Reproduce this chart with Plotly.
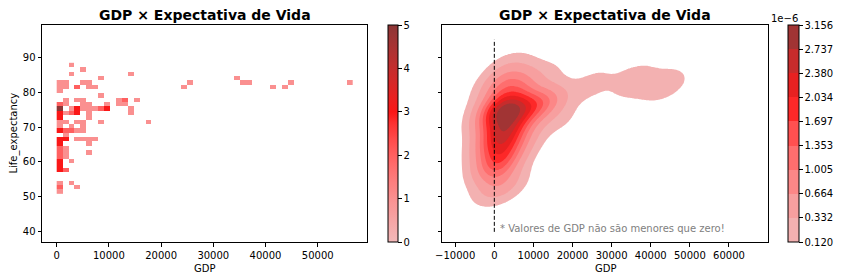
import math
import numpy as np
import plotly.graph_objects as go

# ---------------- data ----------------
# one entry per occupied 2-D histogram cell: GDP, life expectancy, number of countries
gdp = [
    2800,
    5100,
    2800, 14200,
    8500, 34600,
    600, 1700, 5100, 6200, 25500, 35700, 36900, 44800, 56100,
    600, 1700, 4000, 6200, 7400, 24400, 41400, 43700,
    600,
    8500,
    1700, 4000, 5100, 11900, 13000, 15300,
    600, 1700, 5100, 6200, 9600, 11900, 13000,
    600, 2800, 4000, 5100, 6200, 7400, 8500, 9600, 14200,
    600, 1700, 2800, 4000, 6200, 14200,
    600, 6200,
    600, 1700, 4000, 5100, 8500, 17600,
    600, 2800, 5100,
    600, 1700, 2800, 4000, 5100,
    1700,
    600, 1700, 4000, 5100, 6200, 7400,
    600, 6200,
    600, 1700,
    600, 1700, 6200,
    600, 1700,
    600, 2800,
    600,
    600, 1700,
    600, 2800,
    600, 4000,
    600,
]
life_expectancy = [
    87.8,
    86.5,
    85.3, 85.3,
    84.0, 84.0,
    82.8, 82.8, 82.8, 82.8, 82.8, 82.8, 82.8, 82.8, 82.8,
    81.6, 81.6, 81.6, 81.6, 81.6, 81.6, 81.6, 81.6,
    80.3,
    79.1,
    77.8, 77.8, 77.8, 77.8, 77.8, 77.8,
    76.6, 76.6, 76.6, 76.6, 76.6, 76.6, 76.6,
    75.3, 75.3, 75.3, 75.3, 75.3, 75.3, 75.3, 75.3, 75.3,
    74.1, 74.1, 74.1, 74.1, 74.1, 74.1,
    72.8, 72.8,
    71.6, 71.6, 71.6, 71.6, 71.6, 71.6,
    70.3, 70.3, 70.3,
    69.1, 69.1, 69.1, 69.1, 69.1,
    67.9,
    66.6, 66.6, 66.6, 66.6, 66.6, 66.6,
    65.4, 65.4,
    64.1, 64.1,
    62.9, 62.9, 62.9,
    61.6, 61.6,
    60.4, 60.4,
    59.2,
    57.9, 57.9,
    54.2, 54.2,
    52.9, 52.9,
    51.7,
]
countries = [
    1,
    1,
    1, 1,
    1, 1,
    1, 1, 1, 1, 1, 1, 1, 1, 1,
    1, 1, 2, 1, 1, 1, 1, 1,
    1,
    1,
    1, 1, 1, 1, 2, 1,
    2, 1, 1, 1, 1, 1, 1,
    5, 1, 3, 1, 1, 1, 2, 3, 1,
    3, 1, 2, 3, 1, 1,
    3, 1,
    1, 1, 1, 1, 1, 1,
    1, 1, 1,
    3, 2, 2, 1, 1,
    1,
    3, 3, 1, 1, 1, 1,
    3, 1,
    2, 1,
    2, 1, 1,
    2, 1,
    3, 1,
    3,
    3, 2,
    1, 1,
    2, 1,
    1,
]

# tick labels of the density colour bar (x 1e-6)
kde_tick_labels = ["0.120", "0.332", "0.664", "1.005", "1.353",
                   "1.697", "2.034", "2.380", "2.737", "3.156"]

TITLE = "GDP × Expectativa de Vida"
NOTE = "* Valores de GDP não são menores que zero!"
ZERO_GDP = 0
ZERO_LINE_SPAN = [40, 95]

# ---------------- seaborn-like colormap (HUSL ramp from "red") ----------------
_M = [[3.240969941904521, -1.537383177570093, -0.498610760293],
      [-0.96924363628087, 1.87596750150772, 0.041555057407175],
      [0.055630079696993, -0.20397695888897, 1.056971514242878]]
_KAPPA = 903.2962962
_EPS = 0.0088564516
_REF_U = 0.19783000664283
_REF_V = 0.46831999493879


def _bounds(L):
    sub1 = (L + 16) ** 3 / 1560896
    sub2 = sub1 if sub1 > _EPS else L / _KAPPA
    out = []
    for m1, m2, m3 in _M:
        for t in (0, 1):
            top1 = (284517 * m1 - 94839 * m3) * sub2
            top2 = (838422 * m3 + 769860 * m2 + 731718 * m1) * L * sub2 - 769860 * t * L
            bottom = (632260 * m3 - 126452 * m2) * sub2 + 126452 * t
            out.append((top1 / bottom, top2 / bottom))
    return out


def _max_chroma(L, H):
    hr = math.radians(H)
    lens = []
    for slope, icpt in _bounds(L):
        ln = icpt / (math.sin(hr) - slope * math.cos(hr))
        if ln >= 0:
            lens.append(ln)
    return min(lens)


def husl_to_rgb(h, s, l):
    if l > 99.9999999:
        return (1.0, 1.0, 1.0)
    if l < 1e-8:
        return (0.0, 0.0, 0.0)
    c = _max_chroma(l, h) / 100 * s
    hr = math.radians(h)
    u, v = c * math.cos(hr), c * math.sin(hr)
    Y = l / _KAPPA if l <= 8 else ((l + 16) / 116) ** 3
    vu = u / (13 * l) + _REF_U
    vv = v / (13 * l) + _REF_V
    X = -(9 * Y * vu) / ((vu - 4) * vv - vu * vv)
    Z = (9 * Y - 15 * vv * Y - vv * X) / (3 * vv)
    rgb = []
    for r in _M:
        lin = r[0] * X + r[1] * Y + r[2] * Z
        cc = 12.92 * lin if lin <= 0.0031308 else 1.055 * lin ** (1 / 2.4) - 0.055
        rgb.append(min(max(cc, 0.0), 1.0))
    return rgb


_XX = np.linspace(-1, 1, int(1.15 * 256))[:256]


def cmap(v):
    idx = min(max(int(v * 256), 0), 255)
    j = 255 - idx
    s = 100 * math.cos(_XX[j])
    L = 35 + 45 * j / 255
    r, g, b = husl_to_rgb(12.177, s, L)
    return f"rgb({round(r*255)},{round(g*255)},{round(b*255)})"


# ---------------- histogram ----------------
gx = np.repeat(np.array(gdp, float), countries)
gy = np.repeat(np.array(life_expectancy, float), countries)

GDP_BIN, GDP_START, N_GDP = 1134, 0, 50
LIFE_BIN, LIFE_START, N_LIFE = 1.246, 51.0, 30
xedges = GDP_START + GDP_BIN * np.arange(N_GDP + 1)
yedges = LIFE_START + LIFE_BIN * np.arange(N_LIFE + 1)
Hc, _, _ = np.histogram2d(gx, gy, bins=[xedges, yedges])
zc = [[(None if v == 0 else float(v)) for v in row] for row in Hc.T]
xc = 0.5 * (xedges[:-1] + xedges[1:])
yc = 0.5 * (yedges[:-1] + yedges[1:])

hist_scale = [[k / 40, cmap(k / 40)] for k in range(41)]

# ---------------- KDE (scipy gaussian_kde / seaborn style) ----------------
BW_ADJUST = 0.92
data = np.vstack([gx, gy])
n = data.shape[1]
cov = np.cov(data)
factor = n ** (-1 / 6) * BW_ADJUST
kcov = cov * factor ** 2
bw = np.sqrt(np.diag(kcov))
xg = np.linspace(gx.min() - 3 * bw[0], gx.max() + 3 * bw[0], 200)
yg = np.linspace(gy.min() - 3 * bw[1], gy.max() + 3 * bw[1], 200)
XX, YY = np.meshgrid(xg, yg)
inv = np.linalg.inv(kcov)
norm = 1.0 / (2 * math.pi * math.sqrt(np.linalg.det(kcov)))
dens = np.zeros_like(XX)
for px_, py_ in zip(gx, gy):
    dx = XX - px_
    dy = YY - py_
    q = inv[0, 0] * dx * dx + 2 * inv[0, 1] * dx * dy + inv[1, 1] * dy * dy
    dens += np.exp(-0.5 * q)
dens *= norm / n

iso = np.linspace(0.05, 1, 10)
sv = np.sort(dens.ravel())[::-1]
cum = np.cumsum(sv) / sv.sum()
levels = np.take(sv, np.searchsorted(cum, 1 - iso), mode="clip")
zmap = np.interp(dens, np.concatenate([[0.0], levels]), np.arange(-1, 10))

mids = 0.5 * (levels[:-1] + levels[1:])
band_colors = [cmap((m - levels[0]) / (levels[-1] - levels[0])) for m in mids]
contour_scale = [[0.0, "rgba(255,255,255,0)"], [0.1, "rgba(255,255,255,0)"]]
for i, c in enumerate(band_colors):
    contour_scale += [[0.1 * (i + 1), c], [0.1 * (i + 2), c]]
bar_scale = []
for i, c in enumerate(band_colors):
    bar_scale += [[i / 9, c], [(i + 1) / 9, c]]

# ---------------- figure ----------------
W, H = 841, 280
fig = go.Figure()

cb_common = dict(xanchor="left", xpad=0, y=1 - 25 / H, yanchor="top", ypad=0,
                 len=217 / H, lenmode="fraction", thicknessmode="pixels",
                 outlinewidth=1, outlinecolor="black", ticks="outside", ticklen=3.5,
                 tickwidth=1, tickcolor="black", tickfont=dict(size=10, color="black"))

fig.add_trace(go.Heatmap(
    x=xc, y=yc, z=zc, colorscale=hist_scale, zmin=0, zmax=5,
    xaxis="x", yaxis="y", hoverinfo="skip",
    colorbar=dict(x=388 / W, thickness=10, tickvals=[0, 1, 2, 3, 4, 5], **cb_common),
))

fig.add_trace(go.Contour(
    x=xg, y=yg, z=zmap, xaxis="x2", yaxis="y2", autocontour=False,
    contours=dict(start=0, end=8, size=1, coloring="fill", showlines=False),
    colorscale=contour_scale, showscale=False, line=dict(width=0, smoothing=0),
    hoverinfo="skip",
))

fig.add_trace(go.Scatter(
    x=[None, None], y=[None, None], mode="markers", xaxis="x2", yaxis="y2",
    hoverinfo="skip", showlegend=False,
    marker=dict(color=[0, 9], cmin=0, cmax=9, colorscale=bar_scale, showscale=True,
                colorbar=dict(x=788 / W, thickness=11, tickvals=list(range(10)),
                              ticktext=kde_tick_labels, **cb_common)),
))

axis_style = dict(showline=True, linecolor="black", linewidth=1, mirror=True, ticks="outside",
                  ticklen=3.5, tickwidth=1, tickcolor="black", showgrid=False, zeroline=False,
                  automargin=False, tickfont=dict(size=10, color="black"))
ydom = [1 - 242 / H, 1 - 25 / H]
fig.update_layout(
    template="none",
    width=W, height=H, margin=dict(l=0, r=0, t=0, b=0, pad=0, autoexpand=False),
    paper_bgcolor="white", plot_bgcolor="white", showlegend=False,
    font=dict(family="DejaVu Sans", size=10, color="black"),
    xaxis=dict(domain=[42 / W, 367 / W], range=[-2816, 59444], tick0=0, dtick=10000,
               tickformat="d", anchor="y", **axis_style),
    yaxis=dict(domain=ydom, range=[37.1, 99.2], tick0=0, dtick=10, anchor="x", **axis_style),
    xaxis2=dict(domain=[442.3 / W, 767.7 / W], range=[-13300, 69900], tick0=0, dtick=10000,
                tickformat="d", anchor="y2", **axis_style),
    yaxis2=dict(domain=ydom, range=[37.1, 99.2], tick0=0, dtick=10, anchor="x2",
                showticklabels=False, **axis_style),
)

fig.add_shape(type="line", xref="x2", yref="y2", x0=ZERO_GDP, x1=ZERO_GDP,
              y0=ZERO_LINE_SPAN[0], y1=ZERO_LINE_SPAN[1],
              line=dict(color="black", width=1, dash="4px,2px"))

ann = [
    dict(text=f"<b>{TITLE}</b>", x=204.5 / W, y=1 - 15 / H, font=dict(size=14)),
    dict(text=f"<b>{TITLE}</b>", x=605 / W, y=1 - 15 / H, font=dict(size=14)),
    dict(text="GDP", x=204.5 / W, y=1 - 268 / H, font=dict(size=10)),
    dict(text="GDP", x=605 / W, y=1 - 268 / H, font=dict(size=10)),
    dict(text="Life_expectancy", x=13 / W, y=1 - 133.5 / H, textangle=-90, font=dict(size=10)),
    dict(text="1e\u22126", x=784 / W, y=1 - 19 / H, font=dict(size=10)),
]
for a in ann:
    fig.add_annotation(xref="paper", yref="paper", xanchor="center", yanchor="middle",
                       showarrow=False, **a)

fig.add_annotation(xref="x2", yref="y2", x=1000, y=41, xanchor="left", yanchor="middle",
                   showarrow=False, text=NOTE, font=dict(size=10, color="#808080"))

fig.write_html("out.html")
